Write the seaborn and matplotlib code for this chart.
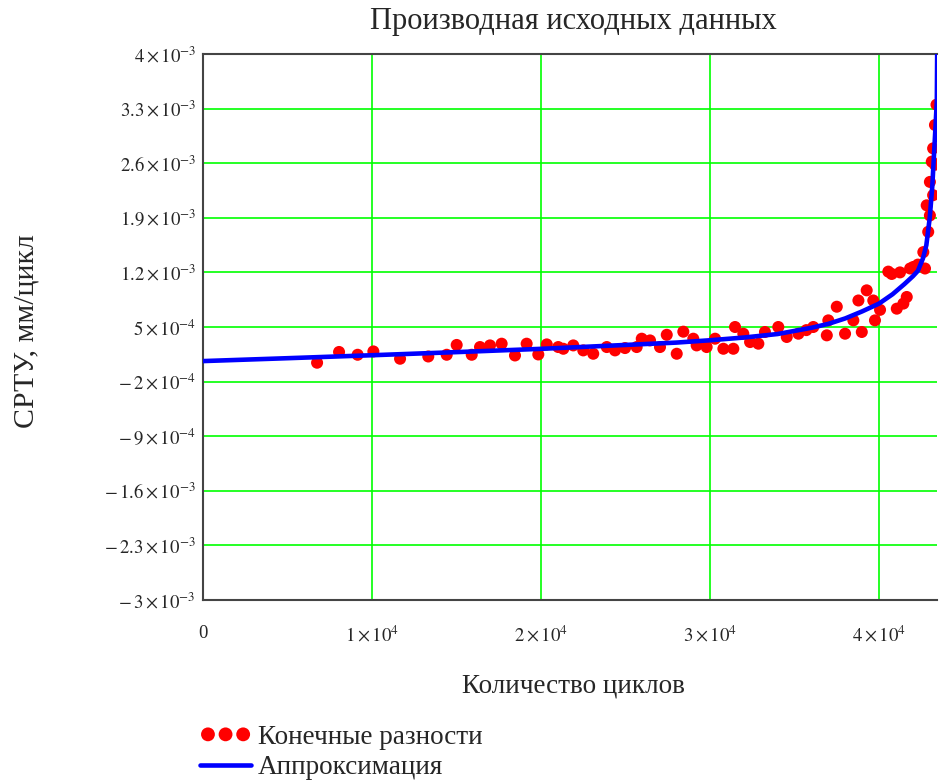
import numpy as np
import pandas as pd
import matplotlib
matplotlib.use("Agg")
import matplotlib.pyplot as plt
import seaborn as sns

# --- данные ---
# конечные разности (точки)
cycles_pts = [6750, 8050, 9150, 10080, 11660, 13330, 14420, 15010, 15900, 16390,
              16980, 17670, 18460, 19150, 19840, 20340, 21020, 21320, 21910, 22500,
              23090, 23890, 24380, 24970, 25660, 25960, 26450, 27040, 27440, 28030,
              28420, 29010, 29210, 29800, 30300, 30790, 31380, 31480, 31970, 32370,
              32860, 33250, 34040, 34540, 35230, 35700, 36110, 36910, 37000, 37500,
              37990, 38480, 38780, 38980, 39270, 39660, 39760, 40060, 40550, 40750,
              41050, 41240, 41440, 41640, 41840, 42030, 42300, 42620, 42720, 42820,
              42910, 43010, 43010, 43120, 43200, 43200, 43310, 43310, 43400]
rate_pts = [4.2e-5, 1.8e-4, 1.44e-4, 1.87e-4, 9.3e-5, 1.22e-4, 1.44e-4, 2.7e-4, 1.44e-4, 2.43e-4,
            2.64e-4, 2.86e-4, 1.35e-4, 2.86e-4, 1.48e-4, 2.77e-4, 2.43e-4, 2.21e-4, 2.64e-4, 2.0e-4,
            1.57e-4, 2.43e-4, 2.0e-4, 2.3e-4, 2.43e-4, 3.5e-4, 3.28e-4, 2.43e-4, 4.0e-4, 1.57e-4,
            4.4e-4, 3.5e-4, 2.64e-4, 2.43e-4, 3.5e-4, 2.21e-4, 2.21e-4, 5.0e-4, 4.14e-4, 3.07e-4,
            2.86e-4, 4.36e-4, 5.0e-4, 3.72e-4, 4.14e-4, 4.6e-4, 5.0e-4, 3.93e-4, 5.85e-4, 7.6e-4,
            4.14e-4, 5.85e-4, 8.4e-4, 4.36e-4, 9.7e-4, 8.4e-4, 5.85e-4, 7.2e-4, 1.21e-3, 1.18e-3,
            7.35e-4, 1.2e-3, 8.0e-4, 8.85e-4, 1.25e-3, 1.27e-3, 1.30e-3, 1.46e-3, 1.25e-3, 2.06e-3,
            1.72e-3, 1.93e-3, 2.36e-3, 2.62e-3, 2.19e-3, 2.79e-3, 2.58e-3, 3.09e-3, 3.35e-3]

# аппроксимация (линия)
cycles_fit = [0, 5000, 10000, 15000, 20000, 25000, 28000, 30000, 32000, 34000,
              36000, 37000, 38000, 39000, 40000, 40800, 41500, 42000, 42300, 42600,
              42800, 43000, 43150, 43250, 43350, 43420, 43440]
rate_fit = [6.3e-5, 1.0e-4, 1.38e-4, 1.78e-4, 2.2e-4, 2.7e-4, 3.0e-4, 3.3e-4, 3.65e-4, 4.1e-4,
            4.9e-4, 5.4e-4, 6.1e-4, 7.0e-4, 8.0e-4, 9.2e-4, 1.05e-3, 1.15e-3, 1.22e-3, 1.38e-3,
            1.55e-3, 1.9e-3, 2.3e-3, 2.7e-3, 3.1e-3, 3.4e-3, 4.0e-3]

y_ticks = [-3e-3, -2.3e-3, -1.6e-3, -9e-4, -2e-4, 5e-4, 1.2e-3, 1.9e-3, 2.6e-3, 3.3e-3, 4e-3]
y_labels = [r'$-\,3\times10^{-3}$', r'$-\,2.3\times10^{-3}$', r'$-\,1.6\times10^{-3}$',
            r'$-\,9\times10^{-4}$', r'$-\,2\times10^{-4}$', r'$5\times10^{-4}$',
            r'$1.2\times10^{-3}$', r'$1.9\times10^{-3}$', r'$2.6\times10^{-3}$',
            r'$3.3\times10^{-3}$', r'$4\times10^{-3}$']
x_ticks = [0, 1e4, 2e4, 3e4, 4e4]
x_labels = ['0', r'$1\times10^{4}$', r'$2\times10^{4}$', r'$3\times10^{4}$', r'$4\times10^{4}$']

pts = pd.DataFrame({'N': cycles_pts, 'v': rate_pts})
fit = pd.DataFrame({'N': cycles_fit, 'v': rate_fit})

# --- оформление ---
sns.set_style('white')
plt.rcParams['font.family'] = ['Liberation Serif', 'DejaVu Serif']
plt.rcParams['mathtext.fontset'] = 'stix'

fig = plt.figure(figsize=(9.39, 7.81), dpi=100)
ax = fig.add_axes([203 / 939, 1 - 600 / 781, 734 / 939, 546 / 781])

sns.scatterplot(data=pts, x='N', y='v', ax=ax, color='#ff0000', s=75,
                edgecolor='none', label='Конечные разности', zorder=3)
sns.lineplot(data=fit, x='N', y='v', ax=ax, color='#0000ff', linewidth=3.3,
             label='Аппроксимация', zorder=4)

ax.set_xlim(0, 43430)
ax.set_ylim(-3e-3, 4e-3)
ax.set_xticks(x_ticks)
ax.set_xticklabels(x_labels)
ax.set_yticks(y_ticks)
ax.set_yticklabels(y_labels)
ax.tick_params(axis='both', length=0, labelsize=13.5)
ax.tick_params(axis='x', pad=18)
ax.tick_params(axis='y', pad=5)

ax.grid(True, color='#00ff00', linewidth=1.2)
ax.set_axisbelow(True)
for side in ['left', 'bottom', 'top']:
    ax.spines[side].set_color('#444444')
    ax.spines[side].set_linewidth(1.5)
ax.spines['right'].set_visible(False)

ax.set_xlabel('')
ax.set_ylabel('')
fig.text(573 / 939, 1 - 21 / 781, 'Производная исходных данных', ha='center', va='center', fontsize=22)
fig.text(573 / 939, 1 - 686 / 781, 'Количество циклов', ha='center', va='center', fontsize=19.5)
fig.text(27 / 939, 1 - 331 / 781, 'СРТУ, мм/цикл', ha='center', va='center', rotation=90, fontsize=21.5)

handles, labels = ax.get_legend_handles_labels()
ax.legend_.remove()
fig.legend(handles, labels, loc='upper left', bbox_to_anchor=(189 / 939, 1 - 714 / 781),
           frameon=False, fontsize=19.5, scatterpoints=3, scatteryoffsets=[0.5],
           markerscale=1.15, handlelength=1.9,
           handletextpad=0.25, labelspacing=0.2, borderaxespad=0)

fig.savefig('out.png', dpi=100)
